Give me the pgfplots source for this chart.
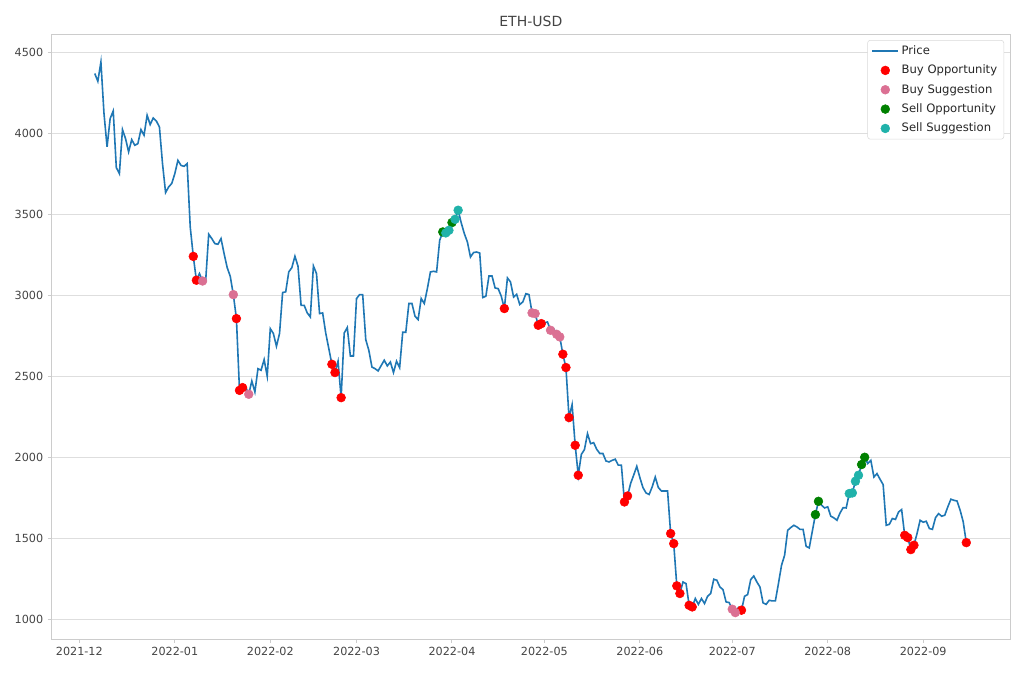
\documentclass[border=0pt]{standalone}
\usepackage{fontspec}
\setmainfont{DejaVu Sans}
\usepackage{pgfplots}
\usepackage{pgfplotstable}
\pgfplotsset{compat=1.18}

\definecolor{tabblue}{HTML}{1F77B4}
\definecolor{pvred}{HTML}{DB7093}
\definecolor{lsgreen}{HTML}{20B2AA}
\definecolor{txt}{HTML}{444444}

\pgfplotsset{
  lineleg/.style={legend image code/.code={\draw[##1] (0cm,0cm) -- (0.68cm,0cm);}},
  dotleg/.style={legend image code/.code={\draw[##1,mark repeat=2,mark phase=2] plot coordinates {(0cm,0cm)(0.34cm,0cm)(0.68cm,0cm)};}},
}

% daily close, day 0 = 2021-12-01
\pgfplotstableread{
d p
5 4369
6 4321
7 4440
8 4122
9 3916
10 4091
11 4138
12 3788
13 3751
14 4023
15 3967
16 3885
17 3961
18 3926
19 3936
20 4023
21 3988
22 4111
23 4054
24 4095
25 4076
26 4039
27 3813
28 3634
29 3669
30 3690
31 3751
32 3833
33 3802
34 3796
35 3813
36 3422
37 3240
38 3093
39 3134
40 3088
41 3085
42 3377
43 3350
44 3319
45 3315
46 3350
47 3257
48 3171
49 3117
50 3004
51 2856
52 2413
53 2430
54 2434
55 2389
56 2471
57 2403
58 2547
59 2537
60 2603
61 2500
62 2794
63 2764
64 2685
65 2764
66 3017
67 3021
68 3144
69 3171
70 3241
71 3179
72 2938
73 2938
74 2891
75 2866
76 3181
77 3134
78 2887
79 2891
80 2767
81 2671
82 2574
83 2523
84 2593
85 2368
86 2767
87 2801
88 2625
89 2625
90 2980
91 3004
92 3004
93 2726
94 2660
95 2557
96 2547
97 2533
98 2566
99 2599
100 2564
101 2588
102 2523
103 2593
104 2553
105 2772
106 2772
107 2949
108 2949
109 2870
110 2850
111 2980
112 2949
113 3041
114 3144
115 3148
116 3144
117 3339
118 3391
119 3385
120 3401
121 3449
122 3469
123 3525
124 3447
125 3381
126 3329
127 3236
128 3264
129 3267
130 3261
131 2986
132 2994
133 3119
134 3119
135 3045
136 3041
137 2994
138 2918
139 3107
140 3082
141 2989
142 3006
143 2943
144 2959
145 3010
146 3004
147 2891
148 2887
149 2815
150 2825
151 2830
152 2835
153 2784
154 2794
155 2759
156 2743
157 2636
158 2554
159 2245
160 2325
161 2074
162 1889
163 2018
164 2047
165 2146
166 2084
167 2090
168 2049
169 2023
170 2023
171 1977
172 1971
173 1981
174 1988
175 1951
176 1951
177 1724
178 1761
179 1838
180 1890
181 1944
182 1875
183 1813
184 1780
185 1770
186 1817
187 1878
188 1813
189 1792
190 1792
191 1792
192 1529
193 1467
194 1206
195 1159
196 1230
197 1220
198 1086
199 1076
200 1128
201 1092
202 1128
203 1097
204 1142
205 1159
206 1247
207 1241
208 1199
209 1183
210 1107
211 1103
212 1062
213 1041
214 1072
215 1056
216 1142
217 1152
218 1245
219 1267
220 1230
221 1199
222 1101
223 1092
224 1117
225 1113
226 1113
227 1220
228 1333
229 1395
230 1549
231 1566
232 1580
233 1570
234 1555
235 1555
236 1450
237 1440
238 1543
239 1646
240 1728
241 1704
242 1687
243 1694
244 1636
245 1626
246 1611
247 1656
248 1689
249 1687
250 1776
251 1780
252 1852
253 1889
254 1955
255 2000
256 1961
257 1981
258 1878
259 1899
260 1864
261 1831
262 1580
263 1586
264 1622
265 1616
266 1662
267 1677
268 1518
269 1504
270 1430
271 1457
272 1529
273 1611
274 1599
275 1605
276 1560
277 1555
278 1627
279 1652
280 1636
281 1642
282 1694
283 1741
284 1734
285 1730
286 1673
287 1601
288 1473
}\price

\begin{document}
\begin{tikzpicture}
\path[use as bounding box] (-38.5pt,-30.5pt) rectangle (726.5pt,479.5pt);
\begin{axis}[
  at={(0,0)}, anchor=south west,
  scale only axis,
  width=719.25pt, height=453.75pt,
  xmin=-9.1, xmax=302.3,
  ymin=876, ymax=4611,
  xtick={0,31,62,90,121,151,182,212,243,274},
  xticklabels={2021-12,2022-01,2022-02,2022-03,2022-04,2022-05,2022-06,2022-07,2022-08,2022-09},
  ytick={1000,1500,...,4500},
  /pgf/number format/assume math mode=true,
  /pgf/number format/set thousands separator={},
  tick label style={font=\fontsize{8.4}{10}\selectfont, text=txt},
  tick pos=left, tick align=outside,
  major tick length=2.6pt,
  tick style={black!20, line width=0.75pt},
  ymajorgrids,
  major grid style={black!13, line width=0.75pt},
  axis line style={black!20, line width=0.75pt},
  title={ETH-USD},
  title style={font=\fontsize{10.5}{12}\selectfont, text=txt, yshift=-4pt},
  legend style={at={(1,1)}, anchor=north east, xshift=-4.7pt, yshift=-4.3pt,
    draw=black!15, rounded corners=2pt, fill=white,
    font=\fontsize{8.7}{10}\selectfont, text=black!85, row sep=2.4pt,
    inner xsep=3pt, inner ysep=2pt},
  legend cell align=left,
  dotleg,
]
\addplot[tabblue, line width=1.2pt, mark=none, lineleg] table[x=d,y=p] {\price};
\addlegendentry{Price}

\addplot[only marks, mark=*, mark size=3.3pt, color=red] coordinates {
  (37,3240) (38,3093) (51,2856) (52,2413) (53,2430) (82,2574) (83,2523) (85,2368)
  (138,2918) (149,2815) (150,2825) (157,2636) (158,2554) (159,2245) (161,2074) (162,1889)
  (177,1724) (178,1761) (192,1529) (193,1467) (194,1206) (195,1159) (198,1086) (199,1076)
  (215,1056) (268,1518) (269,1504) (270,1430) (271,1457) (288,1473)
};
\addlegendentry{Buy Opportunity}

\addplot[only marks, mark=*, mark size=3.3pt, color=pvred] coordinates {
  (40,3088) (50,3004) (55,2389) (147,2891) (148,2887) (153,2784) (155,2759) (156,2743)
  (212,1062) (213,1041)
};
\addlegendentry{Buy Suggestion}

\addplot[only marks, mark=*, mark size=3.3pt, color=green!50!black] coordinates {
  (118,3391) (121,3449) (239,1646) (240,1728) (254,1955) (255,2000)
};
\addlegendentry{Sell Opportunity}

\addplot[only marks, mark=*, mark size=3.3pt, color=lsgreen] coordinates {
  (119,3385) (120,3401) (122,3469) (123,3525) (250,1776) (251,1780) (252,1852) (253,1889)
};
\addlegendentry{Sell Suggestion}
\end{axis}
\end{tikzpicture}
\end{document}
